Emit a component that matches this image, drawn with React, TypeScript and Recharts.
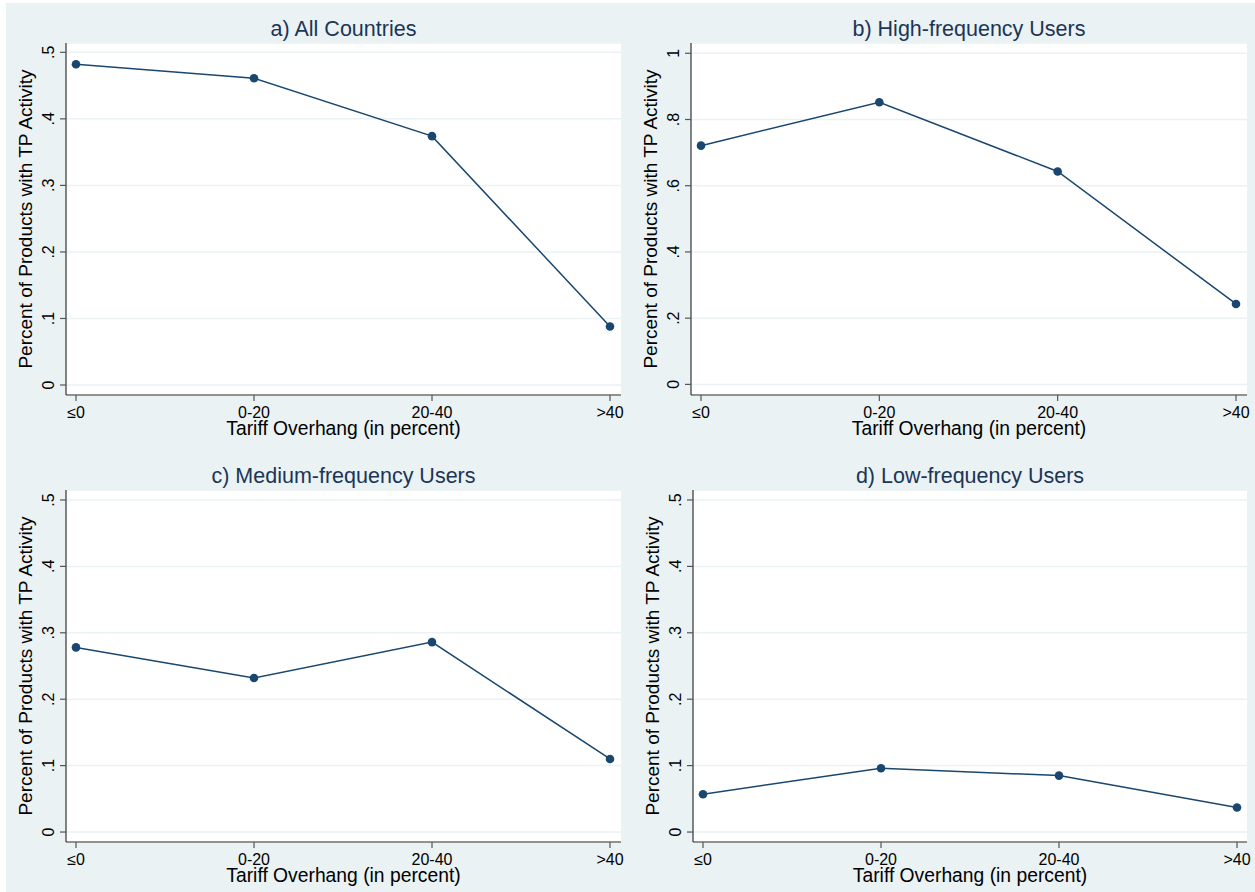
import React from "react";
import { LineChart, Line, XAxis, YAxis, CartesianGrid } from "recharts";

const categories = ["≤0", "0-20", "20-40", ">40"];
const allCountries = [0.482, 0.461, 0.374, 0.088];
const highFrequency = [0.721, 0.852, 0.643, 0.243];
const mediumFrequency = [0.278, 0.232, 0.286, 0.110];
const lowFrequency = [0.057, 0.096, 0.085, 0.037];

const ticksHalf = [0, 0.1, 0.2, 0.3, 0.4, 0.5];
const ticksOne = [0, 0.2, 0.4, 0.6, 0.8, 1];

const titles = [
  "a) All Countries",
  "b) High-frequency Users",
  "c) Medium-frequency Users",
  "d) Low-frequency Users",
];
const yTitle = "Percent of Products with TP Activity";
const xTitle = "Tariff Overhang (in percent)";

const BG = "#EAF2F3";
const NAVY = "#1A476F";
const FONT = "'Liberation Sans', Arial, Helvetica, sans-serif";

function fmt(v: number): string {
  if (v === 0) return "0";
  if (v === 1) return "1";
  return v.toFixed(1).replace(/^0/, "");
}

const YTick = (props: any) => {
  const { x, y, payload } = props;
  return (
    <text
      x={x}
      y={y}
      transform={`rotate(-90 ${x} ${y})`}
      textAnchor="middle"
      fontSize={16}
      fontFamily={FONT}
      fill="#000"
    >
      {fmt(payload.value)}
    </text>
  );
};

const XTick = (props: any) => {
  const { x, y, payload } = props;
  return (
    <text x={x} y={y + 14.5} textAnchor="middle" fontSize={16} fontFamily={FONT} fill="#000">
      {payload.value}
    </text>
  );
};

type PanelCfg = {
  title: string;
  values: number[];
  ticks: number[];
  domain: [number, number];
  left: number;
  top: number;
  width: number;
  height: number;
  yAxisWidth: number;
  marginTop: number;
  marginRight: number;
  xAxisHeight: number;
  padL: number;
  padR: number;
};

const panels: PanelCfg[] = [
  {
    title: titles[0], values: allCountries, ticks: ticksHalf, domain: [-0.015, 0.514],
    left: 0, top: 0, width: 634, height: 447, yAxisWidth: 66, marginTop: 43, marginRight: 13,
    xAxisHeight: 52, padL: 10, padR: 11,
  },
  {
    title: titles[1], values: highFrequency, ticks: ticksOne, domain: [-0.032, 1.031],
    left: 621, top: 0, width: 634, height: 447, yAxisWidth: 70, marginTop: 43, marginRight: 8,
    xAxisHeight: 52, padL: 10, padR: 11,
  },
  {
    title: titles[2], values: mediumFrequency, ticks: ticksHalf, domain: [-0.015, 0.515],
    left: 0, top: 447, width: 634, height: 445, yAxisWidth: 66, marginTop: 43, marginRight: 13,
    xAxisHeight: 50, padL: 10, padR: 11,
  },
  {
    title: titles[3], values: lowFrequency, ticks: ticksHalf, domain: [-0.015, 0.515],
    left: 621, top: 447, width: 634, height: 445, yAxisWidth: 72, marginTop: 43, marginRight: 8,
    xAxisHeight: 50, padL: 10, padR: 10,
  },
];

function Panel({ cfg }: { cfg: PanelCfg }) {
  const data = categories.map((c, i) => ({ cat: c, v: cfg.values[i] }));
  const plotLeft = cfg.yAxisWidth;
  const plotRight = cfg.width - cfg.marginRight;
  const plotTop = cfg.marginTop;
  const plotBottom = cfg.height - cfg.xAxisHeight;
  const cx = (plotLeft + plotRight) / 2;
  const cy = (plotTop + plotBottom) / 2;
  return (
    <div style={{ position: "absolute", left: cfg.left, top: cfg.top, width: cfg.width, height: cfg.height }}>
      <LineChart
        width={cfg.width}
        height={cfg.height}
        data={data}
        margin={{ top: cfg.marginTop, right: cfg.marginRight, bottom: 0, left: 0 }}
      >
        <CartesianGrid vertical={false} horizontal={true} fill="#ffffff" stroke={BG} strokeWidth={1.5} />
        <XAxis
          dataKey="cat"
          height={cfg.xAxisHeight}
          padding={{ left: cfg.padL, right: cfg.padR }}
          interval={0}
          tickSize={6}
          tickMargin={2}
          axisLine={{ stroke: "#333", strokeWidth: 1.2 }}
          tickLine={{ stroke: "#555", strokeWidth: 1.2 }}
          tick={<XTick />}
        />
        <YAxis
          type="number"
          width={cfg.yAxisWidth}
          domain={cfg.domain}
          allowDataOverflow={true}
          ticks={cfg.ticks}
          interval={0}
          tickSize={6}
          tickMargin={6}
          axisLine={{ stroke: "#333", strokeWidth: 1.2 }}
          tickLine={{ stroke: "#555", strokeWidth: 1.2 }}
          tick={<YTick />}
        />
        <Line
          type="linear"
          dataKey="v"
          stroke={NAVY}
          strokeWidth={1.5}
          dot={{ r: 4.3, fill: NAVY, stroke: NAVY, strokeWidth: 0 }}
          activeDot={false}
          isAnimationActive={false}
        />
      </LineChart>
      <svg
        width={cfg.width}
        height={cfg.height}
        style={{ position: "absolute", left: 0, top: 0, pointerEvents: "none" }}
      >
        <text x={cx} y={36} textAnchor="middle" fontSize={21.5} fontFamily={FONT} fill="#1C3557">
          {cfg.title}
        </text>
        <text
          x={plotLeft - 34}
          y={cy}
          transform={`rotate(-90 ${plotLeft - 34} ${cy})`}
          textAnchor="middle"
          fontSize={19}
          fontFamily={FONT}
          fill="#000"
        >
          {yTitle}
        </text>
        <text x={cx} y={plotBottom + 40} textAnchor="middle" fontSize={19.3} fontFamily={FONT} fill="#000">
          {xTitle}
        </text>
      </svg>
    </div>
  );
}

export default function App() {
  return (
    <div
      style={{
        position: "absolute",
        left: 0,
        top: 0,
        width: 1255,
        height: 892,
        background: "#ffffff",
        overflow: "hidden",
      }}
    >
      <div style={{ position: "absolute", left: 6, top: 3, width: 1249, height: 889, background: BG }} />
      {panels.map((p, i) => (
        <Panel key={i} cfg={p} />
      ))}
    </div>
  );
}
